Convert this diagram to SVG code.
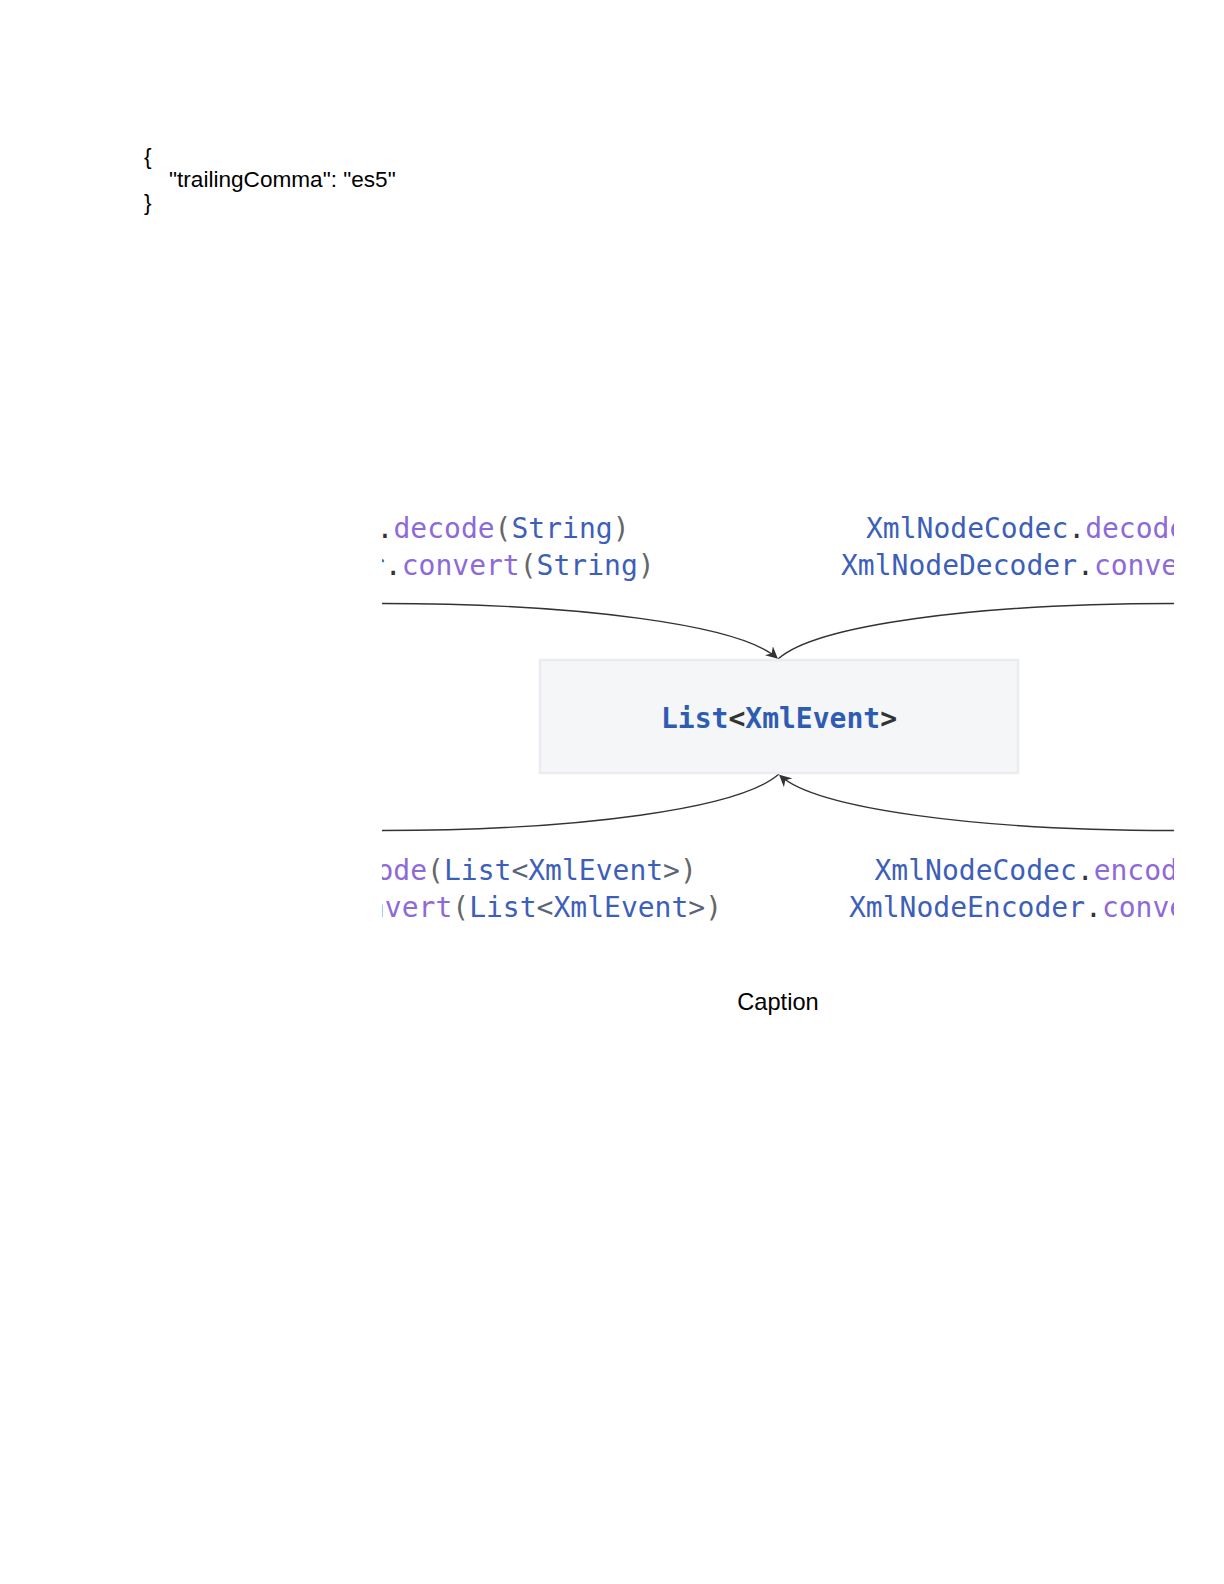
<svg xmlns="http://www.w3.org/2000/svg" width="1224" height="1584" viewBox="0 0 1224 1584">
  <style>
    .json { font-family: "Liberation Sans", Arial, sans-serif; font-size: 22.6px; fill: #000; }
    .caption { font-family: "Liberation Sans", Arial, sans-serif; font-size: 23.6px; fill: #000; }
    .code { font-family: "DejaVu Sans Mono", "Liberation Mono", monospace; font-size: 28px; }
    .nodetext { font-family: "DejaVu Sans Mono", "Liberation Mono", monospace; font-size: 28px; font-weight: bold; }
    .cls { fill: #3d5fb9; }
    .mth { fill: #8d6ad8; }
    .dot { fill: #333333; }
    .par { fill: #666666; }
    .ang { fill: #5a6478; }
    .edge { fill: none; stroke: #333333; stroke-width: 1.4; }
    .box { fill: #f5f6f8; stroke: #eaecf0; stroke-width: 2.5; }
  </style>
  <defs>
    <clipPath id="frame">
      <rect x="382" y="480" width="792" height="470"/>
    </clipPath>
    <marker id="arrow" viewBox="0 0 10 10" refX="9" refY="5" markerWidth="12" markerHeight="12" markerUnits="userSpaceOnUse" orient="auto">
      <path d="M0,0 L10,5 L0,10 L3,5 z" fill="#333333"/>
    </marker>
  </defs>
  <rect width="1224" height="1584" fill="#ffffff"/>

  <g id="json-snippet">
    <text class="json" x="144" y="164">{</text>
    <text class="json" x="169" y="187">"trailingComma": "es5"</text>
    <text class="json" x="144" y="210">}</text>
  </g>

  <g clip-path="url(#frame)">
    <g id="connectors">
      <path class="edge" d="M382,603.5 C580,603.5 740,625 777,658" marker-end="url(#arrow)"/>
      <path class="edge" d="M778,659 C816,625 976,603.5 1174,603.5"/>
      <path class="edge" d="M1174,830.5 C976,830.5 816,808.5 780,775.5" marker-end="url(#arrow)"/>
      <path class="edge" d="M779,774 C740,808.5 580,830.5 382,830.5"/>
    </g>

    <g id="label-top-left">
      <text class="code" x="376.6" y="538"><tspan class="dot">.</tspan><tspan class="mth">decode</tspan><tspan class="par">(</tspan><tspan class="cls">String</tspan><tspan class="par">)</tspan></text>
      <text class="code" x="368" y="575"><tspan class="cls">r</tspan><tspan class="dot">.</tspan><tspan class="mth">convert</tspan><tspan class="par">(</tspan><tspan class="cls">String</tspan><tspan class="par">)</tspan></text>
    </g>

    <g id="label-top-right">
      <text class="code" x="866" y="537.5"><tspan class="cls">XmlNodeCodec</tspan><tspan class="dot">.</tspan><tspan class="mth">decode</tspan></text>
      <text class="code" x="841" y="574.5"><tspan class="cls">XmlNodeDecoder</tspan><tspan class="dot">.</tspan><tspan class="mth">conve</tspan></text>
    </g>

    <g id="label-bottom-left">
      <text class="code" x="376.5" y="880"><tspan class="mth">ode</tspan><tspan class="par">(</tspan><tspan class="cls">List</tspan><tspan class="ang">&lt;</tspan><tspan class="cls">XmlEvent</tspan><tspan class="ang">&gt;</tspan><tspan class="par">)</tspan></text>
      <text class="code" x="368" y="917"><tspan class="mth">nvert</tspan><tspan class="par">(</tspan><tspan class="cls">List</tspan><tspan class="ang">&lt;</tspan><tspan class="cls">XmlEvent</tspan><tspan class="ang">&gt;</tspan><tspan class="par">)</tspan></text>
    </g>

    <g id="label-bottom-right">
      <text class="code" x="874.5" y="880"><tspan class="cls">XmlNodeCodec</tspan><tspan class="dot">.</tspan><tspan class="mth">encod</tspan></text>
      <text class="code" x="849" y="917"><tspan class="cls">XmlNodeEncoder</tspan><tspan class="dot">.</tspan><tspan class="mth">conve</tspan></text>
    </g>
  </g>

  <g id="node-list-xmlevent">
    <rect class="box" x="540" y="660" width="478" height="113"/>
    <text class="nodetext" x="779" y="728" text-anchor="middle"><tspan fill="#2f5cb3">List</tspan><tspan fill="#333333">&lt;</tspan><tspan fill="#2f5cb3">XmlEvent</tspan><tspan fill="#333333">&gt;</tspan></text>
  </g>

  <g id="caption">
    <text class="caption" x="778" y="1009.5" text-anchor="middle">Caption</text>
  </g>
</svg>
